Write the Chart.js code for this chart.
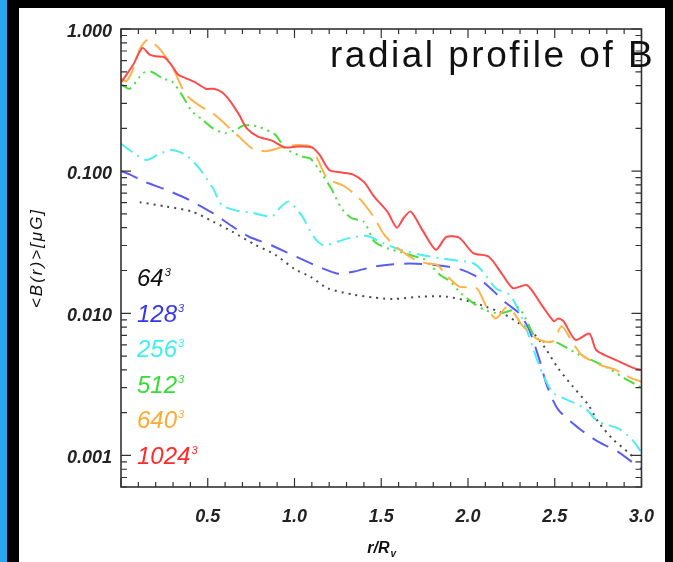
<!DOCTYPE html>
<html>
<head>
<meta charset="utf-8">
<script src="https://cdn.jsdelivr.net/npm/chart.js@4"></script>
<style>
  html, body { margin: 0; padding: 0; background: #000; width: 673px; height: 562px; overflow: hidden; }
  #bar { position: absolute; left: 0; top: 0; width: 7px; height: 562px; background: #2aa7f0; }
  #panel { position: absolute; left: 19px; top: 8px; width: 646px; height: 554px; background: #fff; }
  #wrap { position: absolute; left: 0; top: 0; width: 673px; height: 562px; }
</style>
</head>
<body>
<div id="bar"></div>
<div id="panel"></div>
<div id="wrap"><canvas id="c" width="673" height="562"></canvas></div>
<script>
// resolutions (legend labels, all cubed)
const resLabels = ['64', '128', '256', '512', '640', '1024'];
const lineColors = ['#4a4a4a', '#5c5cf2', '#4eeeee', '#4cdc3c', '#ffb347', '#ff4a4a'];
const textColors = ['#111111', '#3535ee', '#3ef0f0', '#35dd35', '#ffaa33', '#ff2a2a'];
const dashes = [[2, 5], [18, 10], [14, 6, 2, 6], [12, 5, 2, 5, 2, 5, 2, 5], [22, 9], []];

// radial profiles, [r/Rv, <B> in muG]
const b64 = [[0.108,0.0605],[0.26,0.0564],[0.41,0.052],[0.53,0.0442],[0.64,0.0376],[0.775,0.0303],[0.89,0.0258],[1.0,0.0205],[1.095,0.018],[1.19,0.015],[1.345,0.0135],[1.46,0.0129],[1.57,0.0126],[1.725,0.0131],[1.875,0.0131],[2.01,0.0121],[2.105,0.0111],[2.20,0.010],[2.295,0.0085],[2.37,0.0074],[2.445,0.0057],[2.52,0.0041],[2.60,0.0031],[2.69,0.0023],[2.75,0.00173],[2.83,0.00132],[2.92,0.00106],[2.95,0.00098]];
const b128 = [[0.0,0.1],[0.05,0.095],[0.127,0.085],[0.26,0.074],[0.39,0.063],[0.53,0.0506],[0.64,0.041],[0.735,0.0347],[0.87,0.030],[0.98,0.026],[1.11,0.022],[1.25,0.019],[1.345,0.0197],[1.46,0.0213],[1.57,0.0221],[1.67,0.0224],[1.82,0.0218],[1.95,0.0205],[2.05,0.0181],[2.14,0.0146],[2.22,0.0118],[2.295,0.010],[2.35,0.0078],[2.41,0.0048],[2.455,0.0031],[2.52,0.0021],[2.64,0.00155],[2.75,0.00125],[2.865,0.00106],[3.0,0.0008]];
const b256 = [[0.0,0.156],[0.07,0.135],[0.146,0.12],[0.22,0.132],[0.29,0.141],[0.375,0.13],[0.45,0.105],[0.53,0.076],[0.58,0.058],[0.66,0.053],[0.755,0.051],[0.87,0.048],[0.915,0.055],[0.965,0.061],[1.04,0.049],[1.115,0.034],[1.17,0.030],[1.25,0.032],[1.325,0.034],[1.42,0.035],[1.515,0.031],[1.61,0.028],[1.725,0.0258],[1.84,0.0244],[1.915,0.0237],[2.03,0.0225],[2.085,0.0197],[2.16,0.015],[2.24,0.0135],[2.295,0.0103],[2.35,0.0070],[2.41,0.0043],[2.485,0.0028],[2.56,0.0025],[2.675,0.00214],[2.75,0.00173],[2.865,0.00155],[2.94,0.00132],[3.0,0.00105]];
const b512 = [[0.0,0.41],[0.05,0.38],[0.127,0.49],[0.175,0.50],[0.24,0.45],[0.30,0.42],[0.35,0.345],[0.41,0.263],[0.47,0.23],[0.53,0.20],[0.60,0.185],[0.66,0.195],[0.71,0.21],[0.79,0.206],[0.89,0.18],[0.945,0.145],[1.04,0.127],[1.09,0.123],[1.135,0.105],[1.21,0.076],[1.27,0.055],[1.325,0.047],[1.40,0.044],[1.46,0.032],[1.535,0.0287],[1.61,0.027],[1.70,0.025],[1.74,0.0244],[1.78,0.022],[1.84,0.0186],[1.90,0.0167],[1.95,0.0142],[2.03,0.0118],[2.10,0.0105],[2.18,0.010],[2.25,0.0105],[2.29,0.011],[2.33,0.0093],[2.38,0.0070],[2.43,0.0063],[2.50,0.0063],[2.56,0.0058],[2.64,0.0051],[2.71,0.0047],[2.81,0.0041],[2.90,0.0035],[3.0,0.0030]];
const b640 = [[0.0,0.45],[0.03,0.43],[0.07,0.52],[0.11,0.73],[0.155,0.84],[0.22,0.73],[0.30,0.53],[0.37,0.35],[0.45,0.29],[0.53,0.255],[0.60,0.215],[0.68,0.175],[0.755,0.145],[0.83,0.138],[0.87,0.141],[0.945,0.149],[1.02,0.153],[1.095,0.149],[1.135,0.12],[1.19,0.089],[1.29,0.078],[1.38,0.063],[1.46,0.047],[1.515,0.036],[1.59,0.029],[1.69,0.024],[1.76,0.0225],[1.82,0.022],[1.875,0.0186],[1.95,0.0154],[2.05,0.015],[2.10,0.0115],[2.16,0.0092],[2.22,0.011],[2.26,0.0102],[2.31,0.0083],[2.39,0.0067],[2.485,0.0063],[2.54,0.0081],[2.60,0.0063],[2.655,0.0051],[2.75,0.0044],[2.85,0.004],[2.94,0.0035],[3.0,0.0033]];
const b1024 = [[0.0,0.42],[0.07,0.56],[0.123,0.735],[0.165,0.66],[0.2,0.643],[0.25,0.632],[0.29,0.56],[0.33,0.476],[0.375,0.45],[0.43,0.42],[0.49,0.38],[0.535,0.38],[0.58,0.36],[0.63,0.31],[0.68,0.25],[0.725,0.20],[0.79,0.175],[0.87,0.164],[0.945,0.147],[1.02,0.149],[1.10,0.147],[1.145,0.13],[1.20,0.102],[1.27,0.098],[1.335,0.095],[1.40,0.084],[1.46,0.066],[1.535,0.052],[1.59,0.040],[1.63,0.047],[1.67,0.052],[1.74,0.038],[1.815,0.028],[1.875,0.0345],[1.95,0.034],[2.03,0.0265],[2.12,0.025],[2.20,0.0186],[2.26,0.015],[2.34,0.0158],[2.43,0.0112],[2.495,0.0088],[2.52,0.0092],[2.55,0.0088],[2.62,0.0065],[2.70,0.0072],[2.74,0.0055],[2.85,0.0047],[2.96,0.0041],[3.0,0.0040]];

const yLabelTicks = [0.001, 0.01, 0.1, 1];
const series = [b64, b128, b256, b512, b640, b1024];

const fontFam = '"Liberation Sans", Arial, sans-serif';

// IDL style frame with inward ticks on all four sides
const frameTicks = {
    id: 'frameTicks',
    afterDatasetsDraw(chart) {
        const {ctx, chartArea: a, scales: {x, y}} = chart;
        ctx.save();
        ctx.strokeStyle = '#333';
        ctx.lineWidth = 1.2;
        ctx.beginPath();
        for (let i = 0; i <= 30; i++) {
            const px = x.getPixelForValue(i / 10);
            const len = i % 5 === 0 ? 9 : 5;
            ctx.moveTo(px, a.bottom); ctx.lineTo(px, a.bottom - len);
            ctx.moveTo(px, a.top); ctx.lineTo(px, a.top + len);
        }
        for (let e = -4; e <= 0; e++) {
            for (let m = 1; m <= 9; m++) {
                const v = m * Math.pow(10, e);
                if (v < y.min || v > y.max) continue;
                const py = y.getPixelForValue(v);
                const len = m === 1 ? 10 : 6;
                ctx.moveTo(a.left, py); ctx.lineTo(a.left + len, py);
                ctx.moveTo(a.right, py); ctx.lineTo(a.right - len, py);
            }
        }
        ctx.stroke();
        ctx.lineWidth = 1.6;
        ctx.strokeRect(a.left, a.top, a.right - a.left, a.bottom - a.top);
        ctx.restore();
    }
};

// title, axis titles and the coloured resolution labels
const annotations = {
    id: 'annotations',
    afterDraw(chart) {
        const {ctx, chartArea: a} = chart;
        ctx.save();
        ctx.fillStyle = '#111';
        ctx.font = '37px ' + fontFam;
        ctx.letterSpacing = '2.5px';
        ctx.textBaseline = 'alphabetic';
        ctx.fillText('radial profile of B', a.left + 209, a.top + 38);

        // y title
        ctx.save();
        ctx.translate(42, (a.top + a.bottom) / 2);
        ctx.rotate(-Math.PI / 2);
        ctx.font = 'italic 17px ' + fontFam;
        ctx.letterSpacing = '2px';
        ctx.textAlign = 'center';
        ctx.fillText('<B(r)>[\u03bcG]', 0, 0);
        ctx.restore();

        // x title
        ctx.letterSpacing = '0px';
        ctx.font = 'italic bold 16px ' + fontFam;
        const cx = (a.left + a.right) / 2 - 14;
        ctx.fillText('r/R', cx, 553);
        const w = ctx.measureText('r/R').width;
        ctx.font = 'italic bold 10px ' + fontFam;
        ctx.fillText('v', cx + w + 1, 557);

        // resolution labels
        chart.data.datasets.forEach((ds, i) => {
            const yb = a.top + 257 + i * 35.6;
            ctx.fillStyle = textColors[i];
            ctx.font = 'italic 24px ' + fontFam;
            ctx.fillText(ds.label, a.left + 16, yb);
            const tw = ctx.measureText(ds.label).width;
            ctx.font = 'italic 11px ' + fontFam;
            ctx.fillText('3', a.left + 16 + tw + 1, yb - 10);
        });
        ctx.restore();
    }
};

const datasets = series.map((s, i) => ({
    label: resLabels[i],
    data: s.map(p => ({x: p[0], y: p[1]})),
    borderColor: lineColors[i],
    borderWidth: 2,
    borderDash: dashes[i],
    pointRadius: 0,
    tension: 0.25,
    fill: false,
    order: series.length - i
}));

const tickFont = {family: fontFam, size: 18, style: 'italic', weight: 'bold'};

new Chart(document.getElementById('c'), {
    type: 'line',
    data: {datasets: datasets},
    options: {
        responsive: false,
        animation: false,
        layout: {padding: {left: 0, top: 29, right: 26, bottom: 0}},
        plugins: {legend: {display: false}, title: {display: false}, tooltip: {enabled: false}},
        scales: {
            x: {
                type: 'linear', min: 0, max: 3,
                grid: {display: false, drawTicks: false},
                border: {display: false},
                ticks: {
                    stepSize: 0.5, maxRotation: 0, color: '#222', font: tickFont, padding: 19,
                    callback: v => v === 0 ? '' : v.toFixed(1)
                },
                afterFit(s) { s.height = 75; }
            },
            y: {
                type: 'logarithmic', min: 0.00062, max: 1,
                grid: {display: false, drawTicks: false},
                border: {display: false},
                afterBuildTicks(s) { s.ticks = yLabelTicks.map(v => ({value: v})); },
                ticks: {
                    color: '#222', font: tickFont, padding: 9, labelOffset: 3,
                    callback: v => Number(v).toFixed(3)
                },
                afterFit(s) { s.width = 121; }
            }
        }
    },
    plugins: [frameTicks, annotations]
});
</script>
</body>
</html>
